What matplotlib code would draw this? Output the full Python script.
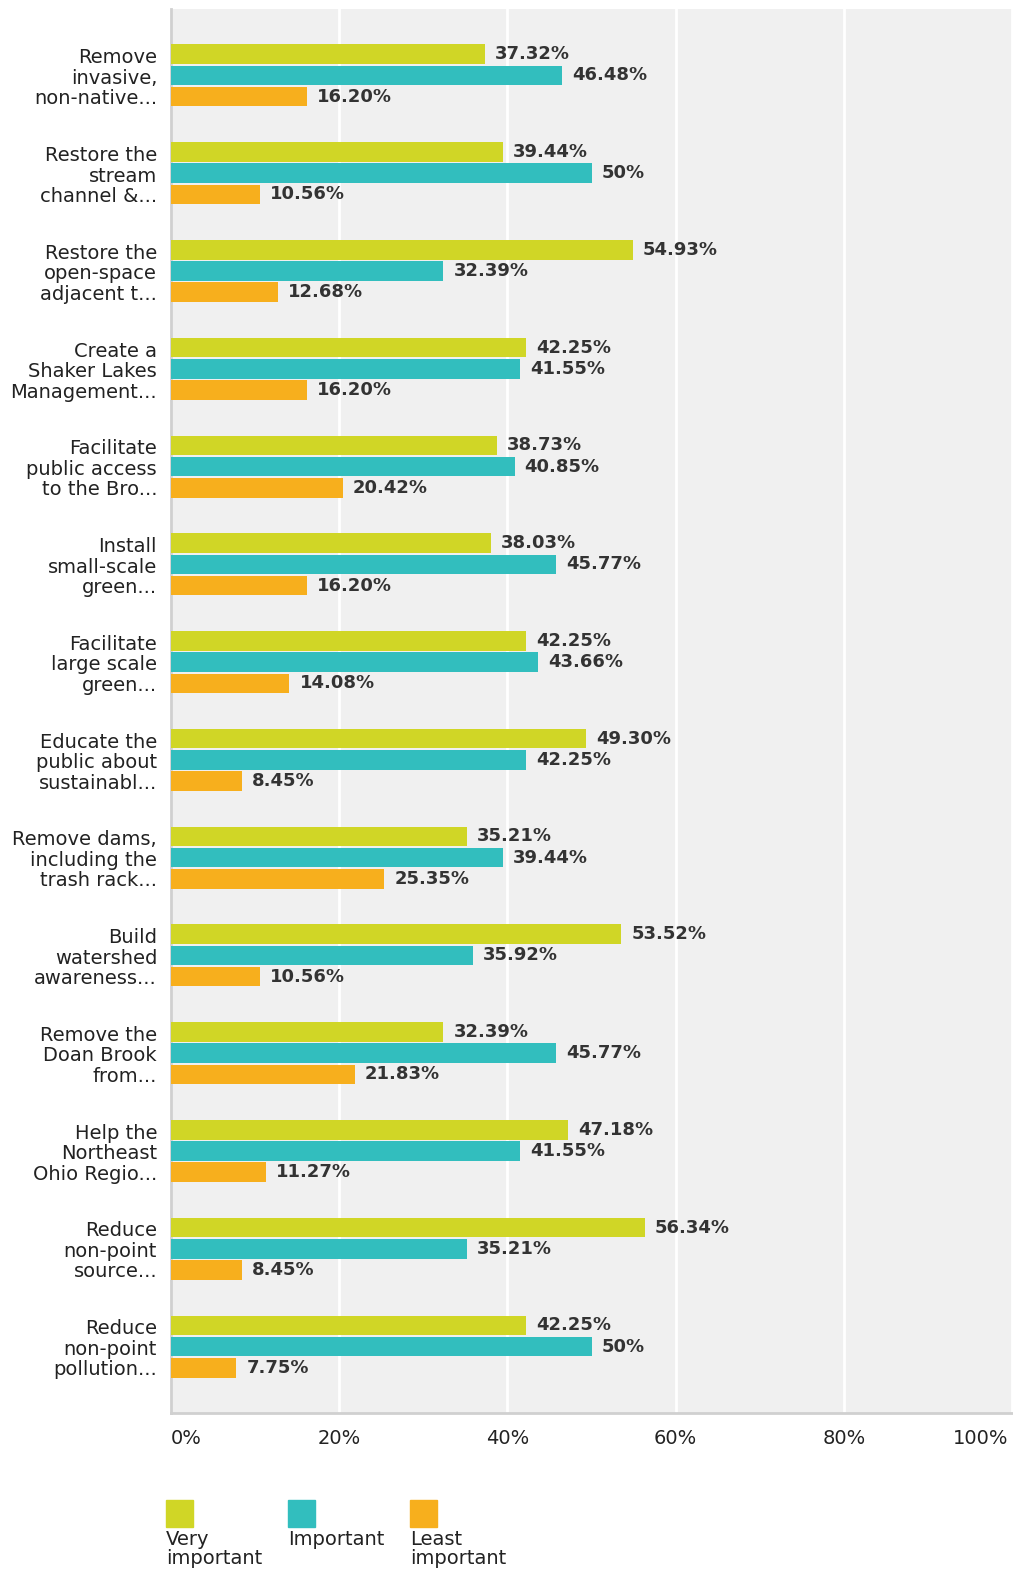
import matplotlib.pyplot as plt
import numpy as np
from matplotlib.patches import Rectangle

plt.rcParams['font.family'] = ['DejaVu Sans']

# data
categories = [
    "Remove\ninvasive,\nnon-native...",
    "Restore the\nstream\nchannel &...",
    "Restore the\nopen-space\nadjacent t...",
    "Create a\nShaker Lakes\nManagement...",
    "Facilitate\npublic access\nto the Bro...",
    "Install\nsmall-scale\ngreen...",
    "Facilitate\nlarge scale\ngreen...",
    "Educate the\npublic about\nsustainabl...",
    "Remove dams,\nincluding the\ntrash rack...",
    "Build\nwatershed\nawareness...",
    "Remove the\nDoan Brook\nfrom...",
    "Help the\nNortheast\nOhio Regio...",
    "Reduce\nnon-point\nsource...",
    "Reduce\nnon-point\npollution...",
]
very_important = [37.32, 39.44, 54.93, 42.25, 38.73, 38.03, 42.25, 49.30, 35.21, 53.52, 32.39, 47.18, 56.34, 42.25]
important = [46.48, 50, 32.39, 41.55, 40.85, 45.77, 43.66, 42.25, 39.44, 35.92, 45.77, 41.55, 35.21, 50]
least_important = [16.20, 10.56, 12.68, 16.20, 20.42, 16.20, 14.08, 8.45, 25.35, 10.56, 21.83, 11.27, 8.45, 7.75]
series_names = ["Very\nimportant", "Important", "Least\nimportant"]
colors = ["#D0D626", "#32BEBE", "#F7AF1D"]
ticks = [0, 20, 40, 60, 80, 100]

W, H = 1013, 1575
fig = plt.figure(figsize=(W / 100, H / 100), dpi=100)
ax = fig.add_axes([171 / W, 1 - 1413 / H, 841 / W, 1404 / H])
ax.set_facecolor("#F0F0F0")

y = np.arange(len(categories))
h = 0.2
step = 0.217
series = [very_important, important, least_important]
for i, (vals, c) in enumerate(zip(series, colors)):
    yy = y + (i - 1) * step
    ax.barh(yy, vals, height=h, color=c, zorder=3)
    for yv, v in zip(yy, vals):
        lab = "%d%%" % v if v == int(v) else "%.2f%%" % v
        ax.text(v + 1.2, yv, lab, va="center", ha="left", fontsize=13,
                fontweight="bold", color="#333333", zorder=4)

ax.set_xlim(0, 100)
ax.set_ylim(len(categories) - 1 + 0.68, -0.68)
ax.set_xticks(ticks)
ax.set_xticklabels([])
ax.tick_params(axis="x", length=0)
ax.grid(axis="x", color="white", linewidth=2, zorder=1)
ax.set_yticks(y)
ax.set_yticklabels(categories, fontsize=14, color="#222222", linespacing=1.1)
ax.tick_params(axis="y", length=0, pad=10)
for s in ["top", "right"]:
    ax.spines[s].set_visible(False)
for s in ["left", "bottom"]:
    ax.spines[s].set_color("#D0D0D0")
    ax.spines[s].set_linewidth(2)

# x tick labels placed below like the original
for t in ticks:
    xf = (171 + t / 100 * 841) / W
    ha = "center"
    if t == 0:
        ha, xf = "left", 171 / W
    elif t == 100:
        ha, xf = "right", 1008 / W
    fig.text(xf, 1 - 1438 / H, "%d%%" % t, ha=ha, va="center", fontsize=14, color="#222222")

# legend
for i, (name, c) in enumerate(zip(series_names, colors)):
    x0 = 166 + i * 122
    fig.patches.append(Rectangle((x0 / W, 1 - 1527 / H), 27 / W, 27 / H,
                                 transform=fig.transFigure, color=c))
    fig.text(x0 / W, 1 - 1530 / H, name, ha="left", va="top", fontsize=14,
             color="#222222", linespacing=1.0)

fig.savefig("out.png", dpi=100)
